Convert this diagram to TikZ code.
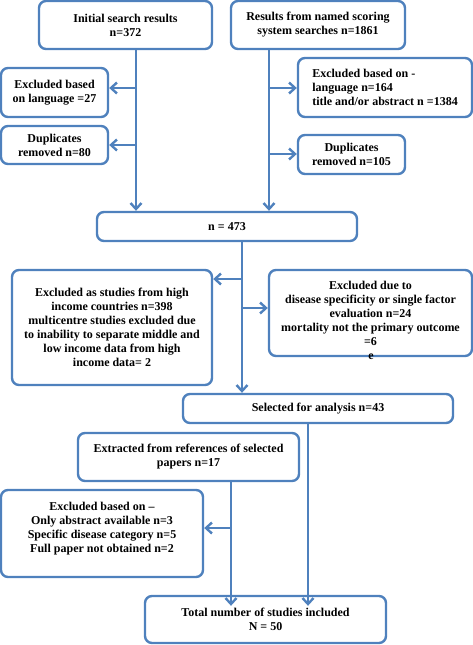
\documentclass[tikz,border=0pt]{standalone}
\usepackage{fontspec}
\setmainfont{Liberation Serif}
\usetikzlibrary{arrows.meta}
\definecolor{boxblue}{HTML}{4F81BD}
\begin{document}
\begin{tikzpicture}[
  x=1pt, y=-1pt,
  line width=2.4pt,
  font=\fontsize{12}{14}\selectfont\bfseries,
  box/.style={
     rectangle,
     rounded corners=7pt,
     draw=boxblue,
     align=center,
     inner sep=2pt,
  },
  flow/.style={
     draw=boxblue,
     -{Straight Barb[length=6pt,width=11pt]},
  }
]
   \useasboundingbox (0,0) rectangle (473,645);
   \node[box,minimum width=173pt,minimum height=48pt] (init) at (125.5,25) {Initial search results\\n=372};
   \node[box,minimum width=174pt,minimum height=48pt] (named) at (318,25) {Results from named scoring\\system searches n=1861};
   \node[box,minimum width=107pt,minimum height=49pt] (exlang) at (54.5,92.5) {Excluded based\\on language =27};
   \node[box,minimum width=107pt,minimum height=38pt] (dupL) at (54.5,145) {Duplicates\\removed n=80};
   \node[box,minimum width=174pt,minimum height=59pt,align=left] (exR) at (385,87.5) {Excluded based on -\\language n=164\\title and/or abstract n =1384};
   \node[box,minimum width=107pt,minimum height=39pt] (dupR) at (351.5,154.5) {Duplicates\\removed n=105};
   \node[box,minimum width=260pt,minimum height=29pt] (n473) at (227,226.5) {n = 473};
   \node[box,minimum width=200pt,minimum height=115pt] (exHigh) at (112,327.5) {Excluded as studies from high\\income countries n=398\\multicentre studies excluded due\\to inability to separate middle and\\low income data from high\\income data= 2};
   \node[box,minimum width=203pt,minimum height=86pt] (exDis) at (370.5,313) {Excluded due to\\disease specificity or single factor\\evaluation n=24\\mortality not the primary outcome\\=6};
   \node[inner sep=0pt] (stray) at (371,357) {e};
   \node[box,minimum width=270pt,minimum height=29pt] (sel) at (318,408.5) {Selected for analysis n=43};
   \node[box,minimum width=221pt,minimum height=48pt] (extr) at (188.5,457) {Extracted from references of selected\\papers n=17};
   \node[box,minimum width=202pt,minimum height=87pt] (exAbs) at (102,533.5) {Excluded based on --\\Only abstract available n=3\\Specific disease category n=5\\Full paper not obtained n=2\\[-2pt]};
   \node[box,minimum width=241pt,minimum height=47pt] (total) at (265.5,619.5) {Total number of studies included\\N = 50};

   \coordinate (jl1) at (136,88);
   \coordinate (jl2) at (136,145);
   \coordinate (jr1) at (269,88);
   \coordinate (jr2) at (269,154);
   \coordinate (jm1) at (242,279);
   \coordinate (jm2) at (242,308);
   \coordinate (jb1) at (231,528);
   \coordinate (jb2) at (308,0);

   \draw[flow] (init.south -| jl1) -- (jl1 |- n473.north);
   \draw[flow] (jl1) -- (jl1 -| exlang.east);
   \draw[flow] (jl2) -- (jl2 -| dupL.east);
   \draw[flow] (named.south -| jr1) -- (jr1 |- n473.north);
   \draw[flow] (jr1) -- (jr1 -| exR.west);
   \draw[flow] (jr2) -- (jr2 -| dupR.west);
   \draw[flow] (n473.south -| jm1) -- (jm1 |- sel.north);
   \draw[flow] (jm1) -- (jm1 -| exHigh.east);
   \draw[flow] (jm2) -- (jm2 -| exDis.west);
   \draw[flow] (sel.south -| jb2) -- ([yshift=-11pt]jb2 |- total.north);
   \draw[flow] (extr.south -| jb1) -- ([yshift=-11pt]jb1 |- total.north);
   \draw[flow] (jb1) -- (jb1 -| exAbs.east);
\end{tikzpicture}
\end{document}
